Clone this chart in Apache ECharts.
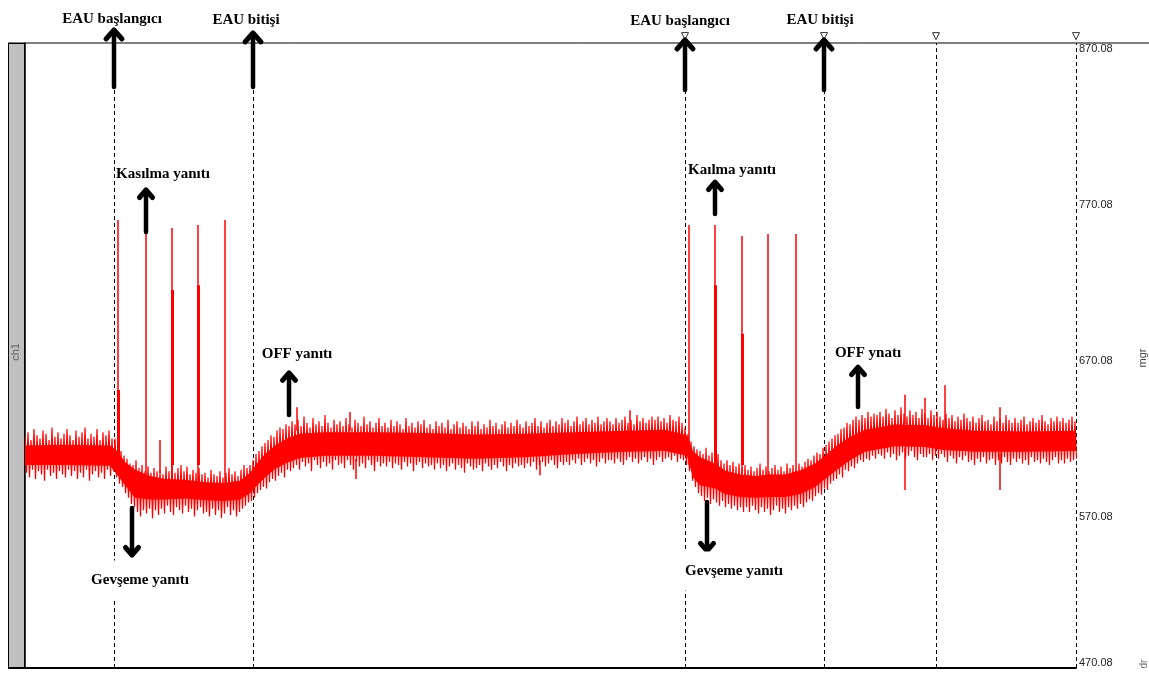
<!DOCTYPE html>
<html>
<head>
<meta charset="utf-8">
<script src="https://cdn.jsdelivr.net/npm/echarts@6/dist/echarts.min.js"></script>
<style>
  html, body { margin: 0; padding: 0; background: #fff; }
  #chart { width: 1149px; height: 677px; }
</style>
</head>
<body>
<div id="chart"></div>
<script>
// y axis tick labels (mgr)
const yTicks = [470.08, 570.08, 670.08, 770.08, 870.08]

// time axis in samples, 0..1051
const xMax = 1051
// dashed event lines: EAU start, EAU end, EAU start, EAU end, two markers
const eventX = [89, 228, 660, 799, 911, 1051]
const markerX = [660, 799, 911, 1051]

// solid core of the noisy trace
const coreX = [0, 40, 85, 92, 100, 110, 125, 140, 160, 180, 200, 215, 225, 232, 240, 250, 262, 275, 300, 350,
  400, 450, 500, 550, 600, 640, 662, 668, 675, 690, 700, 715, 730, 745, 760, 775, 790, 800, 812, 825,
  840, 870, 900, 920, 950, 1000, 1051]
const coreTop = [612.5, 613, 612.5, 609, 602, 597, 593, 591, 590.5, 589, 588.5, 590, 595, 601, 607, 612.5, 617, 620, 621, 621,
  620.5, 619.5, 620, 621, 622, 622.5, 619, 609, 605, 601, 596.5, 594, 593, 594, 594, 596.5, 601, 606, 612.5, 618,
  622.5, 626, 625.5, 623.5, 622, 621.5, 622]
const coreBottom = [600, 600, 599.5, 594, 587, 579, 578, 578, 578.5, 577.5, 577, 578, 582, 587, 592, 597.5, 601.5, 604.5, 606, 606,
  605, 604, 605, 607, 608.5, 609, 606, 592, 587, 585, 581.5, 579.5, 579, 579.5, 579.5, 581.5, 586, 591, 597, 603,
  608.5, 612, 611.5, 609.5, 608.5, 608.5, 609]

// noise extremes, one pair every noiseStep samples
const noiseStep = 3
const noiseHi = [
  618, 621, 616, 623, 619, 617, 622, 620, 616, 624, 618, 621, 617, 620, 623,
  619, 616, 622, 618, 621, 624, 617, 620, 618, 623, 616, 621, 619, 622, 617,
  617, 612, 609, 606, 604, 601, 600, 603, 598, 600, 596, 599, 595, 598, 596,
  597, 594, 599, 596, 601, 595, 598, 600, 596, 599, 594, 597, 595, 598, 594,
  595, 592, 597, 594, 593, 596, 592, 595, 598, 594, 596, 593, 597, 600, 598,
  600, 603, 607, 609, 612, 614, 616, 619, 618, 622, 624, 623, 626, 625, 628,
  626, 629, 625, 631, 627, 624, 630, 626, 628, 625, 632, 627, 624, 629, 626,
  628, 625, 630, 626, 624, 629, 627, 625, 631, 626, 628, 624, 627, 630, 625,
  627, 624, 629, 625, 628, 626, 623, 630, 625, 627, 624, 628, 626, 629, 624,
  626, 623, 628, 625, 627, 624, 629, 623, 626, 628, 624, 627, 625, 623, 628,
  625, 628, 623, 626, 624, 629, 625, 627, 623, 626, 628, 624, 627, 625, 629,
  626, 624, 628, 625, 627, 630, 625, 628, 624, 627, 629, 625, 628, 626, 630,
  627, 629, 625, 628, 631, 626, 628, 630, 626, 629, 627, 631, 626, 628, 630,
  628, 626, 630, 627, 629, 631, 627, 629, 626, 632, 628, 630, 627, 629, 631,
  629, 631, 628, 630, 627, 632, 629, 628, 631, 627, 624, 620, 615, 612, 610,
  609, 607, 611, 606, 608, 605, 607, 603, 601, 603, 600, 602, 599, 601, 598,
  600, 597, 599, 596, 598, 601, 597, 599, 596, 598, 600, 597, 599, 596, 601,
  598, 600, 597, 601, 599, 602, 604, 603, 606, 608, 607, 611, 613, 615, 617,
  619, 620, 623, 624, 627, 626, 629, 631, 629, 632, 630, 634, 631, 633, 632,
  634, 631, 636, 633, 630, 635, 632, 637, 633, 631, 635, 632, 634, 630, 636,
  633, 630, 635, 632, 634, 631, 629, 633, 630, 632, 628, 631, 629, 633, 630,
  628, 631, 627, 630, 632, 628, 629, 626, 631, 628, 630, 627, 632, 629, 627,
  630, 627, 629, 631, 626, 628, 630, 627, 629, 632, 628, 626, 630, 628, 631,
  628, 630, 627, 629, 631, 628]
const noiseLo = [
  595, 592, 597, 591, 596, 594, 590, 597, 593, 595, 591, 596, 594, 592, 597,
  593, 596, 591, 595, 592, 597, 590, 594, 596, 592, 595, 591, 597, 593, 596,
  592, 588, 586, 582, 579, 575, 573, 570, 567, 571, 569, 572, 566, 571, 568,
  572, 569, 574, 570, 568, 573, 571, 569, 574, 570, 572, 567, 571, 573, 569,
  570, 567, 572, 568, 571, 566, 569, 573, 568, 571, 567, 570, 572, 574, 576,
  577, 579, 582, 584, 586, 585, 589, 591, 590, 593, 595, 592, 597, 596, 598,
  600, 597, 602, 599, 601, 596, 603, 600, 598, 602, 599, 601, 597, 603, 600,
  601, 598, 603, 600, 597, 602, 599, 601, 598, 603, 600, 596, 602, 599, 601,
  599, 602, 598, 601, 600, 597, 602, 599, 601, 596, 600, 602, 598, 601, 599,
  600, 597, 601, 598, 600, 596, 599, 601, 597, 600, 598, 595, 601, 599, 597,
  598, 600, 596, 601, 599, 597, 600, 598, 602, 599, 596, 600, 598, 601, 599,
  600, 598, 601, 599, 602, 597, 600, 602, 599, 601, 603, 600, 598, 602, 600,
  602, 600, 603, 601, 604, 600, 602, 604, 601, 603, 599, 602, 604, 601, 603,
  603, 601, 604, 602, 600, 603, 605, 602, 604, 601, 603, 605, 602, 604, 600,
  603, 605, 602, 604, 605, 603, 606, 602, 604, 603, 600, 596, 590, 586, 582,
  580, 577, 579, 575, 578, 576, 574, 577, 573, 575, 572, 574, 571, 573, 570,
  573, 570, 574, 571, 569, 573, 570, 572, 568, 571, 574, 570, 572, 569, 573,
  571, 574, 572, 575, 573, 576, 578, 577, 580, 582, 581, 585, 584, 588, 590,
  591, 594, 592, 597, 596, 599, 598, 601, 603, 602, 604, 603, 606, 604, 607,
  606, 604, 608, 605, 607, 603, 606, 608, 604, 606, 609, 605, 603, 607, 605,
  605, 607, 603, 606, 604, 607, 605, 602, 606, 604, 601, 605, 603, 606, 602,
  603, 600, 604, 602, 605, 601, 603, 604, 600, 603, 601, 605, 602, 600, 604,
  602, 604, 601, 603, 600, 605, 602, 603, 601, 604, 602, 600, 603, 605, 601,
  603, 601, 604, 602, 603, 604]

// contraction spikes
const spikeX = [93, 121, 147, 173, 200, 664, 690, 717, 743, 771]
const spikeBase = [600, 585, 585, 585, 585, 600, 590, 585, 585, 585]
const spikeTop = [756.8, 749.0, 751.7, 753.6, 756.8, 753.6, 753.6, 746.6, 747.8, 747.8]
// thicker lower parts of some spikes
const thickX = [93, 147, 173, 690, 717]
const thickTop = [648, 712, 715, 715, 684]

// isolated noise outliers
const outlierX = [135, 272, 325, 331, 515, 605, 880, 880, 900, 920, 975, 975]
const outlierFrom = [595, 622, 622, 604, 603, 622, 626, 611, 626, 623, 622, 608]
const outlierTo = [616, 637, 634, 591, 593.5, 635, 645, 584, 643, 651, 637, 584]

// annotations: arrows [x, tip, tail] and labels [text, x, y]
const arrows = [
  [89, 878.4, 841.9], [228, 876.5, 841.9], [660, 872.0, 840.0], [799, 872.0, 840.0],
  [121, 776.0, 749.1], [264, 658.9, 632.0], [690, 781.1, 760.6], [833, 662.7, 637.1],
  [107, 542.4, 572.5], [682, 545.0, 576.3]
]
const labels = [
  ['EAU başlangıcı', 87, 885.4], ['EAU bitişi', 221, 884.8],
  ['EAU başlangıcı', 655, 884.2], ['EAU bitişi', 795, 884.8],
  ['Kasılma yanıtı', 138, 786.2], ['OFF yanıtı', 272, 671.0],
  ['Gevşeme yanıtı', 115, 526.4], ['Kaılma yanıtı', 707, 788.8],
  ['OFF ynatı', 843, 671.7], ['Gevşeme yanıtı', 709, 532.2]
]

const red = '#ff0000'

const zigzag = []
noiseHi.forEach((v, i) => {
  zigzag.push([i * noiseStep, v])
  zigzag.push([i * noiseStep + noiseStep / 2, noiseLo[i]])
})

const chart = echarts.init(document.getElementById('chart'))

chart.setOption({
  animation: false,
  grid: { left: 25, right: 73, top: 43, bottom: 9 },
  xAxis: {
    type: 'value', min: 0, max: xMax,
    axisLine: { show: true, lineStyle: { color: '#000', width: 2 } },
    axisTick: { show: false }, axisLabel: { show: false }, splitLine: { show: false }
  },
  yAxis: [
    {
      type: 'value', position: 'right', min: yTicks[0], max: yTicks[4], interval: 100,
      axisLine: { show: true, lineStyle: { color: '#000', width: 1.5 } },
      axisTick: { show: false }, splitLine: { show: false },
      axisLabel: {
        showMinLabel: false, margin: 3, verticalAlign: 'top', align: 'left',
        color: '#222', fontFamily: 'Liberation Sans', fontSize: 11,
        formatter: v => v.toFixed(2)
      }
    },
    {
      type: 'value', position: 'right', min: yTicks[0], max: yTicks[4], interval: 100,
      axisLine: { show: false }, axisTick: { show: false }, splitLine: { show: false },
      axisLabel: {
        showMinLabel: true, showMaxLabel: false, margin: 3, verticalAlign: 'bottom', align: 'left',
        color: '#222', fontFamily: 'Liberation Sans', fontSize: 11,
        formatter: v => (Math.abs(v - yTicks[0]) < 0.01 ? v.toFixed(2) : '')
      }
    }
  ],
  series: [
    {
      type: 'custom',
      silent: true,
      data: [[0, coreTop[0]]],
      renderItem: (params, api) => {
        const pts = coreX.map((x, i) => api.coord([x, coreTop[i]]))
        for (let i = coreX.length - 1; i >= 0; i--) pts.push(api.coord([coreX[i], coreBottom[i]]))
        return { type: 'polygon', shape: { points: pts }, style: { fill: red } }
      },
      z: 3
    },
    {
      type: 'line',
      data: zigzag,
      symbol: 'none',
      sampling: null,
      lineStyle: { color: red, width: 1.2 },
      z: 3
    },
    {
      type: 'lines',
      coordinateSystem: 'cartesian2d',
      data: spikeX.map((x, i) => ({ coords: [[x, spikeBase[i]], [x, spikeTop[i]]] }))
        .concat(outlierX.map((x, i) => ({ coords: [[x, outlierFrom[i]], [x, outlierTo[i]]] }))),
      lineStyle: { color: red, width: 1.5, opacity: 1 },
      z: 3
    },
    {
      type: 'lines',
      coordinateSystem: 'cartesian2d',
      data: thickX.map((x, i) => ({ coords: [[x, 600], [x, thickTop[i]]] })),
      lineStyle: { color: red, width: 3, opacity: 1 },
      z: 3
    },
    {
      type: 'lines',
      coordinateSystem: 'cartesian2d',
      data: eventX.map(x => ({ coords: [[x, yTicks[0]], [x, yTicks[4]]] })),
      lineStyle: { color: '#000', width: 1, type: [4, 3], opacity: 1 },
      z: 2
    },
    {
      type: 'scatter',
      clip: false,
      data: markerX.map(x => [x, 874.5]),
      symbol: 'triangle',
      symbolRotate: 180,
      symbolSize: [7, 7],
      itemStyle: { color: '#fff', borderColor: '#000', borderWidth: 1 },
      z: 4
    }
  ]
})

const toPx = p => chart.convertToPixel({ xAxisIndex: 0, yAxisIndex: 0 }, p)
const graphics = [
  { type: 'line', shape: { x1: 8, y1: 43, x2: 1149, y2: 43 }, style: { stroke: '#000', lineWidth: 1 }, z: 50 },
  { type: 'rect', shape: { x: 8.5, y: 43.5, width: 16, height: 624 }, style: { fill: '#c0c0c0', stroke: '#000', lineWidth: 1 }, z: 50 },
  { type: 'line', shape: { x1: 8, y1: 668, x2: 25, y2: 668 }, style: { stroke: '#000', lineWidth: 2 }, z: 50 },
  {
    type: 'text', x: 16, y: 352, rotation: Math.PI / 2, z: 50,
    style: { text: 'ch1', fill: '#666', font: '11px "Liberation Sans"', align: 'center', verticalAlign: 'middle' }
  },
  {
    type: 'text', x: 1143, y: 358, rotation: Math.PI / 2, z: 50,
    style: { text: 'mgr', fill: '#444', font: '11px "Liberation Sans"', align: 'center', verticalAlign: 'middle' }
  },
  {
    type: 'text', x: 1144, y: 664, rotation: Math.PI / 2, z: 50,
    style: { text: 'dr', fill: '#666', font: '10px "Liberation Sans"', align: 'center', verticalAlign: 'middle' }
  }
]

arrows.forEach(([x, tip, tail]) => {
  const t = toPx([x, tip])
  const b = toPx([x, tail])
  const dir = b[1] > t[1] ? 1 : -1
  const big = tip > 830
  const hw = big ? 8 : 6.5
  const hh = big ? 9 : 7.5
  graphics.push({
    type: 'line', z: 100,
    shape: { x1: t[0], y1: t[1] + dir * 2, x2: b[0], y2: b[1] },
    style: { stroke: '#000', lineWidth: 4.5, lineCap: 'round' }
  })
  graphics.push({
    type: 'polyline', z: 100,
    shape: { points: [[t[0] - hw, t[1] + dir * hh], [t[0], t[1]], [t[0] + hw, t[1] + dir * hh]] },
    style: { stroke: '#000', fill: null, lineWidth: 5, lineCap: 'round', lineJoin: 'round' }
  })
})

labels.forEach(([text, x, y]) => {
  const p = toPx([x, y])
  const boxed = text.startsWith('Gevşeme')
  graphics.push({
    type: 'text', x: p[0], y: p[1], z: 100,
    style: {
      text, fill: '#000', font: 'bold 15px "Liberation Serif"',
      align: 'center', verticalAlign: 'middle',
      backgroundColor: boxed ? '#fff' : null,
      padding: boxed ? [12, 4] : 0
    }
  })
})

chart.setOption({ graphic: graphics })
</script>
</body>
</html>
